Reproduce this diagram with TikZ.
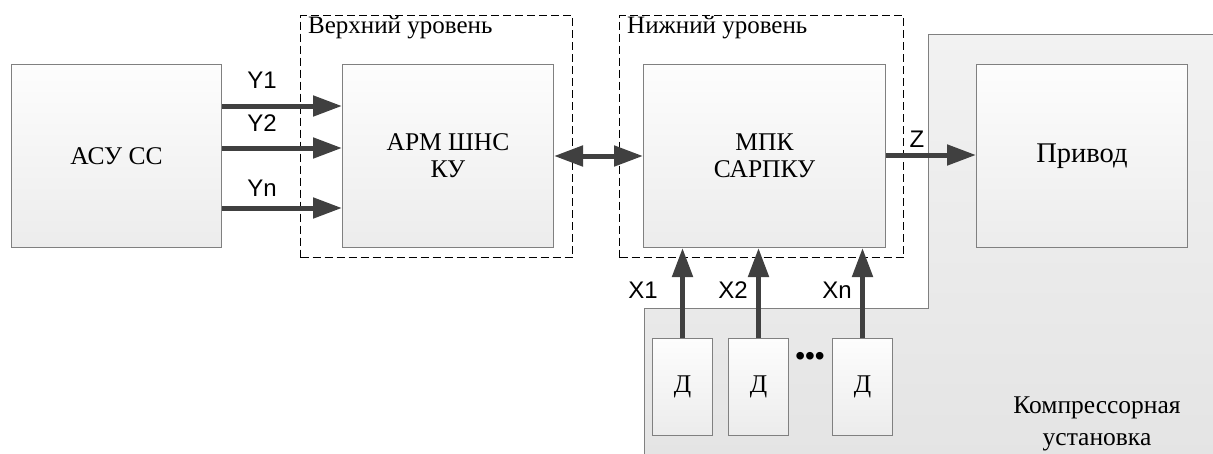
\documentclass[tikz,border=0pt]{standalone}
\usepackage{fontspec}
\setmainfont{Liberation Serif}
\setsansfont{Liberation Sans}
\usetikzlibrary{arrows.meta}
\definecolor{arrowgray}{HTML}{404040}
\definecolor{boxline}{HTML}{808080}
\definecolor{regtop}{HTML}{F2F2F2}
\definecolor{regbot}{HTML}{E4E4E4}
\definecolor{boxtop}{HTML}{FDFDFD}
\definecolor{boxbot}{HTML}{ECECEC}
\begin{document}
\begin{tikzpicture}[x=1pt,y=-1pt,
  blk/.style={draw=boxline, line width=1pt, top color=boxtop, bottom color=boxbot,
    anchor=north west, inner sep=0pt, align=center,
    font=\fontsize{25.5}{27}\selectfont},
  grp/.style={draw=black, line width=1.3pt, dash pattern=on 8pt off 4pt,
    anchor=north west, inner sep=0pt},
  grplabel/.style={anchor=west, inner sep=0pt, font=\fontsize{25}{28}\selectfont},
  sig/.style={inner sep=0pt, font=\sffamily\fontsize{24}{28}\selectfont},
  arr/.style={draw=arrowgray, line width=5pt, -{Triangle[length=29pt,width=20pt]}},
  darr/.style={draw=arrowgray, line width=5pt, {Triangle[length=29pt,width=20pt]}-{Triangle[length=29pt,width=20pt]}}
]
\useasboundingbox (0,0) rectangle (1213,453);

% compressor unit region
\shadedraw[top color=regtop, bottom color=regbot, draw=boxline, line width=1pt]
  (928,34) -- (1220,34) -- (1220,460) -- (644,460) -- (644,308) -- (928,308) -- cycle;
\node[align=center, inner sep=0pt, font=\fontsize{25.5}{32}\selectfont] (cu) at (1097,424) {Компрессорная\\установка};

% level groups
\node[grp, minimum width=272pt, minimum height=242pt] (up) at (300,15) {};
\node[grp, minimum width=284pt, minimum height=242pt] (low) at (619,15) {};
\node[grplabel] (uplab) at (308,28) {Верхний уровень};
\node[grplabel] (lowlab) at (627,28) {Нижний уровень};

% blocks
\node[blk, minimum width=210pt, minimum height=183pt] (asu) at (11,64) {АСУ СС};
\node[blk, minimum width=211pt, minimum height=183pt] (arm) at (342,64) {АРМ ШНС\\КУ};
\node[blk, minimum width=242pt, minimum height=183pt] (mpk) at (643,64) {МПК\\САРПКУ};
\node[blk, minimum width=211pt, minimum height=183pt, font=\fontsize{28.5}{30}\selectfont] (priv) at (976,64) {Привод};
\node[blk, minimum width=60pt, minimum height=97pt] (d1) at (652,338) {Д};
\node[blk, minimum width=60pt, minimum height=97pt] (d2) at (728,338) {Д};
\node[blk, minimum width=60pt, minimum height=97pt] (d3) at (832,338) {Д};
\node[inner sep=0pt, font=\sffamily\fontsize{28}{28}\selectfont] (dots) at (810,359) {•••};

% connectors
\draw[arr] (asu.east |- 0,106) -- (arm.west |- 0,106);
\draw[arr] (asu.east |- 0,148) -- (arm.west |- 0,148);
\draw[arr] (asu.east |- 0,208) -- (arm.west |- 0,208);
\draw[darr] (arm.east |- 0,156) -- (mpk.west |- 0,156);
\draw[arr] (mpk.east |- 0,155) -- (priv.west |- 0,155);
\draw[arr] (d1.north) -- (d1.north |- mpk.south);
\draw[arr] (d2.north) -- (d2.north |- mpk.south);
\draw[arr] (d3.north) -- (d3.north |- mpk.south);

% signal labels
\node[sig] (y1) at (262,80) {Y1};
\node[sig] (y2) at (262,123) {Y2};
\node[sig] (yn) at (262,188) {Yn};
\node[sig] (z) at (917,139) {Z};
\node[sig] (x1) at (643,290) {X1};
\node[sig] (x2) at (733,290) {X2};
\node[sig] (xn) at (837,290) {Xn};
\end{tikzpicture}
\end{document}
